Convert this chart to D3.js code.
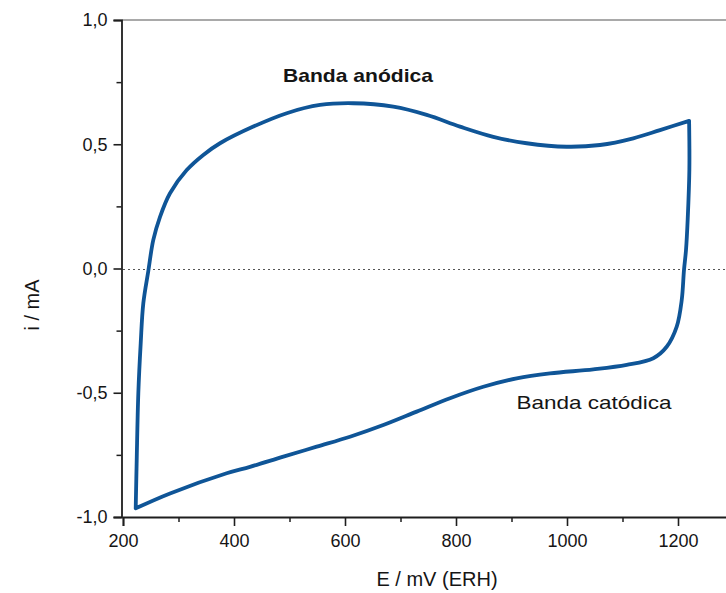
<!DOCTYPE html>
<html>
<head>
<meta charset="utf-8">
<script src="https://cdn.jsdelivr.net/npm/d3@7"></script>
<style>
  html, body { margin: 0; padding: 0; background: #fff; }
  svg { display: block; }
  text { font-family: "Liberation Sans", Arial, sans-serif; fill: #151515; }
</style>
</head>
<body>
<svg id="chart" width="726" height="593"></svg>
<script>
// ---- Data ----
const anodicE = [222.9, 224.7, 227.6, 231.9, 236.6, 245.6, 254.6, 266.7, 284.7, 314.8, 344.7, 374.8, 434.8, 495.0, 555.0, 615.0, 687.0, 747.2, 807.2, 867.2, 927.4, 999.5, 1059.5, 1119.5, 1167.6, 1220.0];
const anodicI = [-0.965, -0.771, -0.502, -0.301, -0.140, -0.010, 0.115, 0.208, 0.303, 0.396, 0.457, 0.504, 0.571, 0.625, 0.658, 0.665, 0.651, 0.618, 0.571, 0.530, 0.504, 0.490, 0.497, 0.524, 0.557, 0.594];
const cathodicE = [1220.0, 1220.5, 1217.5, 1214.4, 1210.8, 1206.7, 1197.7, 1179.6, 1155.5, 1107.6, 1047.4, 969.4, 909.4, 849.2, 789.2, 729.2, 669.0, 609.0, 549.0, 489.0, 428.8, 386.8, 284.7, 222.9];
const cathodicI = [0.594, 0.400, 0.200, 0.074, -0.006, -0.127, -0.234, -0.315, -0.361, -0.388, -0.406, -0.422, -0.442, -0.476, -0.522, -0.576, -0.630, -0.677, -0.717, -0.757, -0.798, -0.824, -0.905, -0.965];
const xTicks = [200, 400, 600, 800, 1000, 1200];
const xMinor = [300, 500, 700, 900, 1100, 1300];
const yTicks = [-1.0, -0.5, 0.0, 0.5, 1.0];
const yMinor = [-0.75, -0.25, 0.25, 0.75];
const xTitle = "E / mV (ERH)";
const yTitle = "i / mA";
const labelAnodic = "Banda anódica";
const labelCathodic = "Banda catódica";

// ---- Layout ----
const svg = d3.select("#chart");
const x = d3.scaleLinear().domain([200, 1300]).range([123, 733.5]);
const y = d3.scaleLinear().domain([-1, 1]).range([517, 20]);
const fmt = d => d3.format(".1f")(d).replace(".", ",").replace("−", "-");

// top frame line
svg.append("line")
  .attr("x1", x(200) - 1.5).attr("x2", 726)
  .attr("y1", y(1)).attr("y2", y(1))
  .attr("stroke", "#555").attr("stroke-width", 1.2);

// zero dotted line
svg.append("line")
  .attr("x1", x(200)).attr("x2", 726)
  .attr("y1", y(0) + 1).attr("y2", y(0) + 1)
  .attr("stroke", "#555").attr("stroke-width", 1.2)
  .attr("stroke-dasharray", "2,3");

// X axis
const xAxis = d3.axisBottom(x).tickValues(xTicks).tickSize(9).tickPadding(8).tickFormat(d3.format("d"));
const gx = svg.append("g").attr("transform", `translate(0,${y(-1)})`).call(xAxis);
gx.select(".domain").attr("stroke", "#1e1e1e").attr("stroke-width", 1.8);
gx.selectAll(".tick line").attr("stroke", "#1e1e1e").attr("stroke-width", 1.6);
gx.selectAll(".tick text").style("font-size", "18px").style("font-family", "Liberation Sans, Arial, sans-serif").attr("fill", "#151515");
const gxm = svg.append("g").attr("transform", `translate(0,${y(-1)})`)
  .call(d3.axisBottom(x).tickValues(xMinor).tickSize(5).tickFormat(""));
gxm.select(".domain").remove();
gxm.selectAll(".tick line").attr("stroke", "#1e1e1e").attr("stroke-width", 1.5);

// Y axis
const yAxis = d3.axisLeft(y).tickValues(yTicks).tickSize(8).tickPadding(6).tickFormat(fmt);
const gy = svg.append("g").attr("transform", `translate(${x(200) - 1.5},0)`).call(yAxis);
gy.select(".domain").attr("stroke", "#1e1e1e").attr("stroke-width", 1.8);
gy.selectAll(".tick line").attr("stroke", "#1e1e1e").attr("stroke-width", 1.6);
gy.selectAll(".tick text").style("font-size", "18px").style("font-family", "Liberation Sans, Arial, sans-serif").attr("fill", "#151515");
const gym = svg.append("g").attr("transform", `translate(${x(200) - 1.5},0)`)
  .call(d3.axisLeft(y).tickValues(yMinor).tickSize(5).tickFormat(""));
gym.select(".domain").remove();
gym.selectAll(".tick line").attr("stroke", "#1e1e1e").attr("stroke-width", 1.5);

// Axis titles
svg.append("text")
  .attr("x", 437).attr("y", 586)
  .attr("text-anchor", "middle")
  .style("font-size", "20px")
  .text(xTitle);
svg.append("text")
  .attr("transform", `translate(39,305) rotate(-90)`)
  .attr("text-anchor", "middle")
  .style("font-size", "20px")
  .text(yTitle);

// Curve
const anodic = anodicE.map((e, k) => [e, anodicI[k]]);
const cathodic = cathodicE.map((e, k) => [e, cathodicI[k]]);
const line = d3.line().x(d => x(d[0])).y(d => y(d[1])).curve(d3.curveCatmullRom.alpha(0.5));
const pathD = line(anodic) + line(cathodic).replace(/^M/, "L");
svg.append("path")
  .attr("d", pathD)
  .attr("fill", "none")
  .attr("stroke", "#0f5597")
  .attr("stroke-width", 3.8)
  .attr("stroke-linejoin", "round")
  .attr("stroke-linecap", "round");

// Annotations
svg.append("text")
  .attr("x", 358).attr("y", 81.5)
  .attr("text-anchor", "middle")
  .style("font-size", "19px").style("font-weight", "bold")
  .attr("textLength", 150).attr("lengthAdjust", "spacingAndGlyphs")
  .text(labelAnodic);
svg.append("text")
  .attr("x", 594).attr("y", 409)
  .attr("text-anchor", "middle")
  .style("font-size", "19px")
  .attr("textLength", 155).attr("lengthAdjust", "spacingAndGlyphs")
  .text(labelCathodic);
</script>
</body>
</html>
